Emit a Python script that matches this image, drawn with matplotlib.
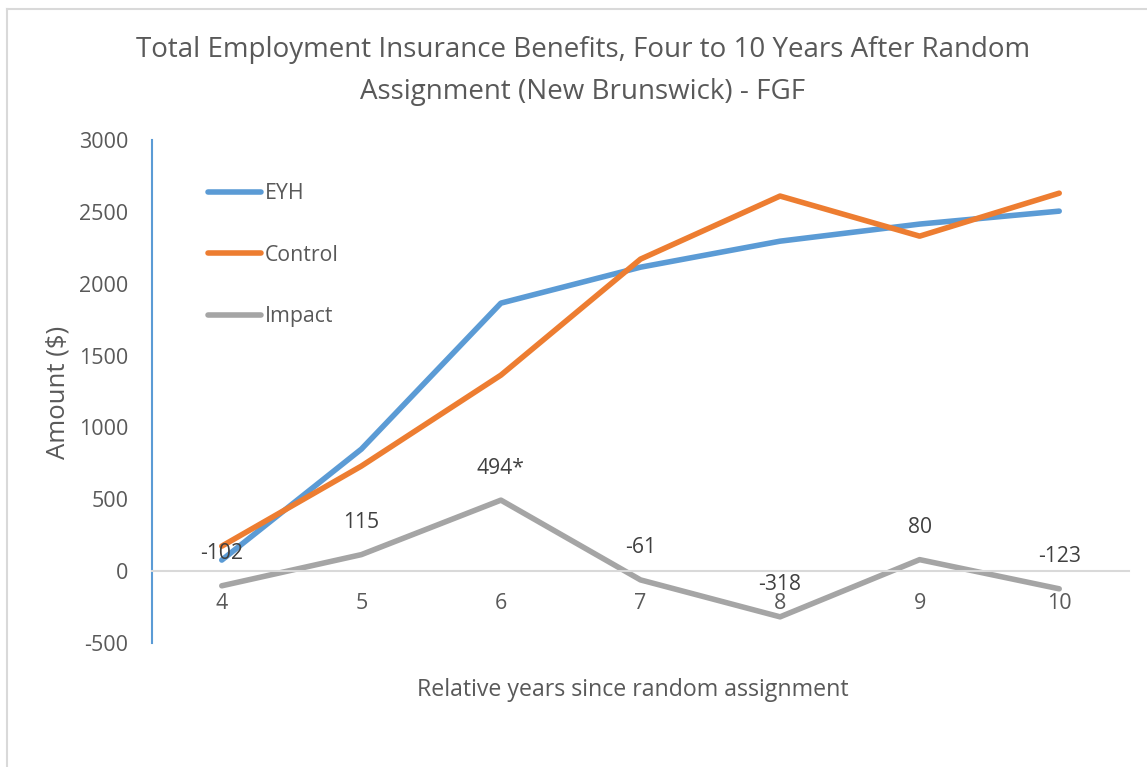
import matplotlib.pyplot as plt
from matplotlib.lines import Line2D

# Data
years = [4, 5, 6, 7, 8, 9, 10]
eyh = [77, 849, 1865, 2115, 2296, 2415, 2505]
control = [174, 731, 1364, 2171, 2610, 2331, 2630]
impact = [-102, 115, 494, -61, -318, 80, -123]
impact_labels = ["-102", "115", "494*", "-61", "-318", "80", "-123"]
yticks = [-500, 0, 500, 1000, 1500, 2000, 2500, 3000]

plt.rcParams['font.family'] = ['Open Sans', 'DejaVu Sans']
plt.rcParams['axes.unicode_minus'] = False
txt = '#595959'

W, H = 1147, 767
fig = plt.figure(figsize=(W / 100, H / 100), dpi=100)
ax = fig.add_axes([152 / W, (H - 643) / H, 977 / W, 503 / H])

ax.plot(years, eyh, color='#5B9BD5', lw=4, solid_capstyle='round', label='EYH')
ax.plot(years, control, color='#ED7D31', lw=4, solid_capstyle='round', label='Control')
ax.plot(years, impact, color='#A5A5A5', lw=4, solid_capstyle='round', label='Impact')

for x, y, s in zip(years, impact, impact_labels):
    ax.annotate(s, (x, y), xytext=(0, 23), textcoords='offset points',
                ha='center', va='center', fontsize=15.2, color='#404040')

ax.set_xlim(3.5, 10.5)
ax.set_ylim(-500, 3000)
ax.set_yticks(yticks)
ax.set_xticks(years)
ax.set_xticklabels([str(y) for y in years])

for s in ['top', 'right']:
    ax.spines[s].set_visible(False)
ax.spines['left'].set_color('#5B9BD5')
ax.spines['left'].set_linewidth(1.5)
ax.spines['bottom'].set_position(('data', 0))
ax.spines['bottom'].set_color('#D9D9D9')
ax.spines['bottom'].set_linewidth(1.5)
ax.tick_params(axis='both', length=0, labelsize=15.5, labelcolor=txt)
ax.tick_params(axis='x', pad=16)
ax.tick_params(axis='y', pad=17)

leg = ax.legend(loc='upper left', bbox_to_anchor=(0.038, 0.952), frameon=False,
                fontsize=15.3, handlelength=2.5, handletextpad=0.15,
                labelspacing=1.9, labelcolor=txt)

fig.text(583 / W, 1 - 50 / H, 'Total Employment Insurance Benefits, Four to 10 Years After Random',
         ha='center', va='center', fontsize=20, color=txt)
fig.text(583 / W, 1 - 92 / H, 'Assignment (New Brunswick) - FGF',
         ha='center', va='center', fontsize=20, color=txt)
fig.text(633 / W, 1 - 690 / H, 'Relative years since random assignment',
         ha='center', va='center', fontsize=16.7, color=txt)
fig.text(58 / W, 1 - 392 / H, 'Amount ($)', rotation=90,
         ha='center', va='center', fontsize=18.5, color=txt)

# outer chart border
fig.add_artist(Line2D([6.5 / W, 6.5 / W], [0, 1 - 8.5 / H], transform=fig.transFigure,
                      color='#D9D9D9', lw=1.5))
fig.add_artist(Line2D([6.5 / W, 1], [1 - 8.5 / H, 1 - 8.5 / H], transform=fig.transFigure,
                      color='#D9D9D9', lw=1.5))

fig.savefig('out.png', dpi=100)
